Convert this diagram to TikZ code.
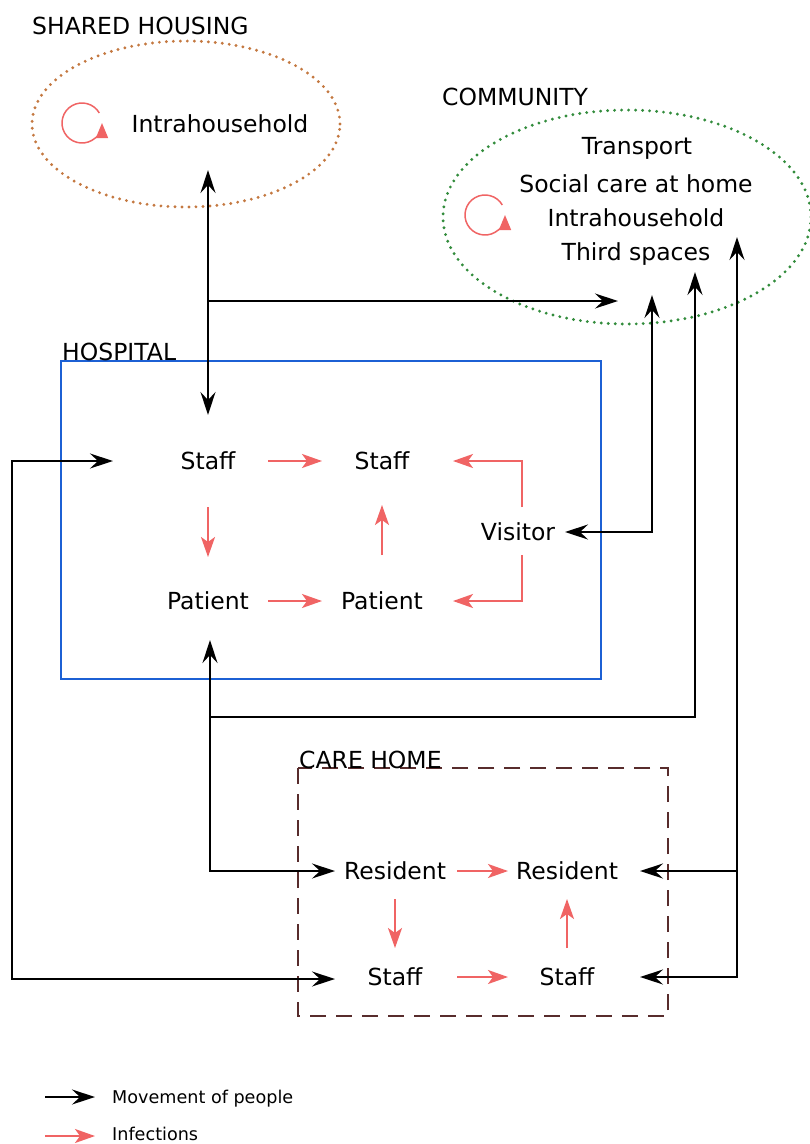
\documentclass[tikz,border=0pt]{standalone}
\usepackage{fontspec}
\setmainfont{DejaVu Sans}
\usetikzlibrary{arrows.meta,shapes.geometric,calc}
\definecolor{infred}{RGB}{240,100,100}
\definecolor{shcol}{RGB}{196,120,64}
\definecolor{cmcol}{RGB}{50,140,60}
\definecolor{hpcol}{RGB}{28,96,212}
\definecolor{chcol}{RGB}{88,44,44}
\tikzset{
  big/.style={font=\fontsize{23.5}{28}\selectfont, inner sep=0pt, text height=17pt, text depth=0pt},
  lbl/.style={big, anchor=west},
  mv/.style={draw=black, line width=1.8pt, -{Stealth[length=23pt,width=15pt,inset=8pt]}},
  mvb/.style={draw=black, line width=1.8pt, {Stealth[length=23pt,width=15pt,inset=8pt]}-{Stealth[length=23pt,width=15pt,inset=8pt]}},
  inf/.style={draw=infred, line width=1.8pt, -{Stealth[length=20pt,width=14pt,inset=5pt]}},
  dotline/.style={line width=3.2pt, line cap=round, dash pattern=on 0pt off 7pt},
  icon/.style={draw=infred, line width=1.5pt, -{Triangle[length=15pt,width=12pt]}},
  legtxt/.style={font=\fontsize{17.6}{21}\selectfont, inner sep=0pt, anchor=west, text height=13pt, text depth=0pt}
}
\begin{document}
\begin{tikzpicture}[x=1pt,y=-1pt]
\useasboundingbox (0,0) rectangle (810,1144);
\fill[white] (0,0) rectangle (810,1144);

% ---- Shared housing
\node[ellipse, draw=shcol, dotline, minimum width=308pt, minimum height=166pt, inner sep=0pt] (sh) at (186,124) {};
\node[lbl] (shlbl) at (32,26) {SHARED HOUSING};
\node[big] (shintra) at (220,124) {Intrahousehold};
\coordinate (shic) at (82,123);
\draw[icon] ($(shic)+(-30:20)$) arc[start angle=-30, delta angle=-330, radius=20];
\coordinate (shin) at ([xshift=22pt,yshift=-46pt]sh.center);

% ---- Community
\node[ellipse, draw=cmcol, dotline, minimum width=368pt, minimum height=214pt, inner sep=0pt] (cm) at (627,217) {};
\node[lbl] (cmlbl) at (442,97) {COMMUNITY};
\node[big] (cmt1) at (637,146) {Transport};
\node[big] (cmt2) at (636,184) {Social care at home};
\node[big] (cmt3) at (636,218) {Intrahousehold};
\node[big] (cmt4) at (636,252) {Third spaces};
\coordinate (cmic) at (485,215);
\draw[icon] ($(cmic)+(-30:20)$) arc[start angle=-30, delta angle=-330, radius=20];
\coordinate (cin1) at (618,301);
\coordinate (cin2) at (652,295);
\coordinate (cin3) at (695,272);
\coordinate (cin4) at (737,237);

% ---- Hospital
\draw[hpcol, line width=2.6pt] (61,361) rectangle (601,679);
\node[lbl] (hplbl) at (62,352) {HOSPITAL};
\node[big] (s1) at (208,461) {Staff};
\node[big] (s2) at (382,461) {Staff};
\node[big] (p1) at (208,601) {Patient};
\node[big] (p2) at (382,601) {Patient};
\node[big] (vis) at (518,532) {Visitor};

\draw[inf] ([xshift=60pt]s1.center) -- ([xshift=-60pt]s2.center);
\draw[inf] ([yshift=-46pt]s1.center) -- ([yshift=44pt]p1.center);
\draw[inf] ([xshift=60pt]p1.center) -- ([xshift=-60pt]p2.center);
\draw[inf] ([yshift=46pt]p2.center) -- ([yshift=-44pt]s2.center);
\draw[inf] ([xshift=4pt,yshift=25pt]vis.center) |- ([xshift=71pt]s2.center);
\draw[inf] ([xshift=4pt,yshift=-23pt]vis.center) |- ([xshift=71pt]p2.center);

% ---- Care home
\draw[chcol, line width=2.8pt, dash pattern=on 16pt off 10pt] (298,768) rectangle (668,1016);
\node[lbl] (chlbl) at (299,760) {CARE HOME};
\node[big] (r1) at (395,871) {Resident};
\node[big] (r2) at (567,871) {Resident};
\node[big] (cs1) at (395,977) {Staff};
\node[big] (cs2) at (567,977) {Staff};

\draw[inf] ([xshift=62pt]r1.center) -- ([xshift=-59pt]r2.center);
\draw[inf] ([yshift=-28pt]r1.center) -- ([yshift=29pt]cs1.center);
\draw[inf] ([xshift=62pt]cs1.center) -- ([xshift=-59pt]cs2.center);
\draw[inf] ([yshift=29pt]cs2.center) -- ([yshift=-28pt]r2.center);

% ---- Movement of people
\draw[mvb] (shin) -- ([yshift=46pt]s1.center);
\coordinate (br1) at (208,301);
\draw[mv] (br1) -- (cin1);
\draw[mvb] (cin2) |- ([xshift=47pt]vis.center);
\draw[mvb] ([xshift=-95pt]s1.center) -- ++(-101,0) |- ([xshift=-60pt,yshift=-2pt]cs1.center);
\draw[mvb] ([xshift=2pt,yshift=-39pt]p1.center) |- ([xshift=-60pt]r1.center);
\coordinate (br2) at (210,717);
\draw[mv] (br2) -| (cin3);
\draw[mvb] (cin4) |- ([xshift=73pt]cs2.center);
\coordinate (br3) at (737,871);
\draw[mv] (br3) -- ([xshift=73pt]r2.center);

% ---- Legend
\node[legtxt] (lg1) at (112,1097) {Movement of people};
\node[legtxt] (lg2) at (112,1134) {Infections};
\draw[mv] ([xshift=-67pt]lg1.west) -- ([xshift=-17pt]lg1.west);
\draw[inf] ([xshift=-67pt,yshift=-2pt]lg2.west) -- ([xshift=-17pt,yshift=-2pt]lg2.west);
\end{tikzpicture}
\end{document}
